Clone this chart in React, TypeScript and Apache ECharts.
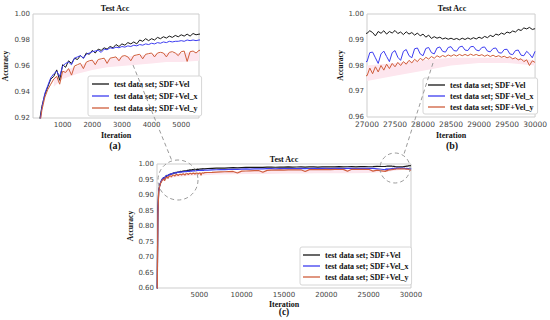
import React, { useEffect, useRef } from "react";
import * as echarts from "echarts";

// ---------- data ----------
const SERIES_NAMES = [
  "test data set; SDF+Vel",
  "test data set; SDF+Vel_x",
  "test data set; SDF+Vel_y",
];
const COLORS = ["#161616", "#3d3df0", "#cf5e3c"];

const range = (a: number, b: number, s: number) => {
  const r: number[] = [];
  for (let v = a; v <= b; v += s) r.push(v);
  return r;
};

// sampling positions (iterations)
const itersEarly = range(0, 5600, 100);
const itersMid = range(6000, 26500, 500);
const itersLate = range(27000, 30000, 50);

const velEarly = [
  0.50, 0.85, 0.915, 0.929, 0.938, 0.944, 0.950, 0.952, 0.957, 0.949,
  0.961, 0.959, 0.964, 0.962, 0.966, 0.965, 0.968, 0.966, 0.970, 0.969,
  0.972, 0.970, 0.973, 0.972, 0.974, 0.973, 0.975, 0.974, 0.9765, 0.975,
  0.977, 0.976, 0.978, 0.977, 0.9785, 0.977, 0.980, 0.979, 0.981, 0.9795,
  0.981, 0.980, 0.982, 0.981, 0.9825, 0.9815, 0.983, 0.982, 0.9835, 0.9825,
  0.984, 0.983, 0.9845, 0.983, 0.985, 0.984, 0.9845,
];
const velXEarly = [
  0.48, 0.84, 0.912, 0.928, 0.939, 0.945, 0.951, 0.954, 0.956, 0.952,
  0.960, 0.962, 0.963, 0.961, 0.966, 0.967, 0.968, 0.966, 0.969, 0.970,
  0.971, 0.9715, 0.972, 0.9705, 0.973, 0.9725, 0.974, 0.9735, 0.9745, 0.974,
  0.975, 0.9745, 0.9755, 0.975, 0.976, 0.9755, 0.9765, 0.976, 0.977, 0.9765,
  0.9775, 0.977, 0.978, 0.9775, 0.9785, 0.978, 0.979, 0.9785, 0.979, 0.979,
  0.9795, 0.979, 0.980, 0.9795, 0.980, 0.9795, 0.980,
];
const velYEarly = [
  0.46, 0.83, 0.91, 0.926, 0.936, 0.942, 0.946, 0.950, 0.952, 0.946,
  0.956, 0.955, 0.958, 0.953, 0.960, 0.961, 0.962, 0.958, 0.963, 0.964,
  0.9645, 0.961, 0.965, 0.9655, 0.966, 0.962, 0.966, 0.9665, 0.967, 0.964,
  0.9675, 0.968, 0.967, 0.964, 0.968, 0.9685, 0.969, 0.9655, 0.969, 0.9695,
  0.970, 0.967, 0.970, 0.9705, 0.970, 0.967, 0.9705, 0.971, 0.970, 0.968,
  0.971, 0.9715, 0.9635, 0.971, 0.9715, 0.970, 0.972,
];

const velMid = [
  0.9855, 0.986, 0.9865, 0.987, 0.9868, 0.9875, 0.988, 0.9878, 0.9885, 0.989,
  0.9888, 0.9892, 0.9895, 0.989, 0.9898, 0.990, 0.9895, 0.9902, 0.990, 0.9905,
  0.9898, 0.9903, 0.9908, 0.990, 0.9905, 0.991, 0.9902, 0.9908, 0.9912, 0.9905,
  0.991, 0.9915, 0.9908, 0.9912, 0.9918, 0.991, 0.9915, 0.992, 0.9912, 0.9918,
  0.9925, 0.992,
];
const velXMid = [
  0.9805, 0.981, 0.9815, 0.982, 0.9818, 0.9825, 0.983, 0.9826, 0.9835, 0.984,
  0.9836, 0.9842, 0.9845, 0.984, 0.9848, 0.985, 0.9845, 0.9852, 0.985, 0.9855,
  0.9848, 0.9853, 0.9856, 0.985, 0.9855, 0.9858, 0.9852, 0.9857, 0.986, 0.9853,
  0.9858, 0.986, 0.9854, 0.9858, 0.9862, 0.9855, 0.986, 0.9862, 0.9856, 0.986,
  0.9845, 0.983,
];
const velYMid = [
  0.9725, 0.973, 0.974, 0.9745, 0.975, 0.9755, 0.976, 0.971, 0.977, 0.9775,
  0.978, 0.9785, 0.979, 0.9735, 0.9795, 0.980, 0.9805, 0.981, 0.9805, 0.981,
  0.9815, 0.981, 0.9815, 0.976, 0.982, 0.9818, 0.9822, 0.982, 0.9825, 0.982,
  0.9825, 0.9822, 0.9828, 0.9765, 0.983, 0.9825, 0.983, 0.9828, 0.983, 0.977,
  0.980, 0.978,
];

const velLate = [
  0.9925, 0.9935, 0.9928, 0.9915, 0.9932, 0.9925, 0.9935, 0.9922, 0.9932, 0.9926,
  0.9936, 0.9924, 0.9930, 0.9920, 0.9931, 0.9922, 0.9928, 0.9918, 0.9926, 0.9915,
  0.9922, 0.9910, 0.9918, 0.9905, 0.9912, 0.9906, 0.9910, 0.9903, 0.9907, 0.9902,
  0.9906, 0.9901, 0.9905, 0.9900, 0.9906, 0.9901, 0.9907, 0.9902, 0.9908, 0.9903,
  0.9910, 0.9905, 0.9913, 0.9908, 0.9917, 0.9912, 0.9922, 0.9918, 0.9926, 0.9921,
  0.9930, 0.9926, 0.9934, 0.9930, 0.9940, 0.9936, 0.9946, 0.9942, 0.9948, 0.9940,
  0.9943,
];
const velXLate = [
  0.9815, 0.9850, 0.9852, 0.9830, 0.9808, 0.9845, 0.9856, 0.9835, 0.9815, 0.9850,
  0.9858, 0.9832, 0.9820, 0.9855, 0.9862, 0.9838, 0.9830, 0.9865, 0.9868, 0.9845,
  0.9838, 0.9866, 0.9870, 0.9850, 0.9845, 0.9868, 0.9872, 0.9855, 0.9852, 0.9870,
  0.9873, 0.9858, 0.9856, 0.9872, 0.9875, 0.9860, 0.9858, 0.9873, 0.9874, 0.9860,
  0.9857, 0.9870, 0.9872, 0.9856, 0.9853, 0.9866, 0.9868, 0.9850, 0.9848, 0.9862,
  0.9863, 0.9845, 0.9842, 0.9858, 0.9860, 0.9840, 0.9838, 0.9855, 0.9845, 0.9830,
  0.9855,
];
const velYLate = [
  0.9760, 0.9790, 0.9768, 0.9795, 0.9775, 0.9800, 0.9782, 0.9805, 0.9788, 0.9808,
  0.9795, 0.9812, 0.9800, 0.9815, 0.9805, 0.9820, 0.9810, 0.9824, 0.9815, 0.9828,
  0.9820, 0.9832, 0.9825, 0.9835, 0.9828, 0.9838, 0.9832, 0.9839, 0.9834, 0.9841,
  0.9836, 0.9842, 0.9837, 0.9843, 0.9838, 0.9843, 0.9838, 0.9844, 0.9839, 0.9843,
  0.9838, 0.9842, 0.9836, 0.9841, 0.9835, 0.9840, 0.9834, 0.9838, 0.9832, 0.9836,
  0.9830, 0.9834, 0.9826, 0.9830, 0.9822, 0.9826, 0.9815, 0.9822, 0.9800, 0.9818,
  0.9812,
];

// light shaded band around the Vel_y curve
const bandIters = [
  700, 1000, 1500, 2000, 2500, 3000, 3500, 4000, 4500, 5000, 5600, 7000, 9000, 11000,
  13000, 15000, 17000, 19000, 21000, 23000, 25000, 27000, 27500, 28000, 28500, 29000,
  29500, 30000,
];
const bandHigh = [
  0.950, 0.956, 0.960, 0.964, 0.965, 0.967, 0.968, 0.969, 0.970, 0.970, 0.971, 0.974,
  0.976, 0.978, 0.979, 0.980, 0.981, 0.981, 0.982, 0.982, 0.982, 0.980, 0.981, 0.982,
  0.983, 0.983, 0.983, 0.982,
];
const bandLow = [
  0.944, 0.950, 0.954, 0.957, 0.959, 0.960, 0.961, 0.962, 0.963, 0.963, 0.964, 0.966,
  0.967, 0.968, 0.968, 0.969, 0.969, 0.970, 0.970, 0.970, 0.971, 0.974, 0.976, 0.978,
  0.980, 0.981, 0.981, 0.980,
];

// axis tick settings per panel: [a, b, c]
const xMins = [0, 27000, 0];
const xMaxs = [5600, 30000, 30000];
const xIntervals = [1000, 500, 5000];
const yMins = [0.92, 0.96, 0.6];
const yMaxs = [1.0, 1.0, 1.0];
const yIntervals = [0.02, 0.01, 0.05];
const panelLabels = ["(a)", "(b)", "(c)"];
const TITLE = "Test Acc";

// ---------- chart ----------
const SERIF = '"Liberation Serif", "Times New Roman", serif';
const SANS = '"DejaVu Sans", sans-serif';

export default function App() {
  const ref = useRef<HTMLDivElement>(null);

  useEffect(() => {
    if (!ref.current) return;
    const chart = echarts.init(ref.current, undefined, { renderer: "svg" });

    const iters = [...itersEarly, ...itersMid, ...itersLate];
    const ys = [
      [...velEarly, ...velMid, ...velLate],
      [...velXEarly, ...velXMid, ...velXLate],
      [...velYEarly, ...velYMid, ...velYLate],
    ];

    const grids = [
      { left: 31, top: 14, width: 168, height: 104 },
      { left: 367, top: 14, width: 170, height: 103 },
      { left: 157, top: 164, width: 254, height: 124 },
    ].map((g) => ({ ...g, show: true, borderColor: "#cdcdcd", borderWidth: 1, backgroundColor: "transparent" }));

    const xAxes = [0, 1, 2].map((k) => ({
      type: "value",
      gridIndex: k,
      min: xMins[k],
      max: xMaxs[k],
      interval: xIntervals[k],
      name: "Iteration",
      nameLocation: "middle",
      nameGap: k === 1 ? 14 : k === 2 ? 12 : 13,
      nameTextStyle: { fontFamily: SERIF, fontWeight: "bold", fontSize: 8, color: "#111" },
      axisLine: { show: false },
      axisTick: { show: false },
      splitLine: { show: false },
      axisLabel: {
        fontFamily: SANS,
        fontSize: k === 1 ? 7.5 : 7,
        color: "#444",
        margin: 3,
        formatter: (v: number) => {
          if (k !== 1 && v === 0) return "";
          if (v % xIntervals[k] !== 0) return "";
          return String(v);
        },
      },
    }));

    const yAxes = [0, 1, 2].map((k) => ({
      type: "value",
      gridIndex: k,
      min: yMins[k],
      max: yMaxs[k],
      interval: yIntervals[k],
      name: "Accuracy",
      nameLocation: "middle",
      nameGap: k === 0 ? 24 : 23,
      nameTextStyle: { fontFamily: SERIF, fontWeight: "bold", fontSize: 7.5, color: "#111" },
      axisLine: { show: false },
      axisTick: { show: false },
      splitLine: { show: false },
      axisLabel: {
        fontFamily: SANS,
        fontSize: 7,
        color: "#444",
        margin: 3,
        formatter: (v: number) => v.toFixed(2),
      },
    }));

    const series: any[] = [];
    for (let k = 0; k < 3; k++) {
      const idx = bandIters
        .map((_, i) => i)
        .filter((i) => bandIters[i] >= xMins[k] && bandIters[i] <= xMaxs[k]);
      series.push({
        type: "custom",
        name: "band" + k,
        xAxisIndex: k,
        yAxisIndex: k,
        silent: true,
        z: 1,
        data: [[xMins[k], yMins[k]]],
        renderItem: (_p: any, api: any) => {
          const up = idx.map((i) => api.coord([bandIters[i], bandHigh[i]]));
          const lo = idx.map((i) => api.coord([bandIters[i], bandLow[i]])).reverse();
          return {
            type: "polygon",
            shape: { points: [...up, ...lo] },
            style: { fill: "#fde6ee", stroke: "none" },
          };
        },
      });
      for (let s = 0; s < 3; s++) {
        series.push({
          type: "line",
          name: SERIES_NAMES[s],
          xAxisIndex: k,
          yAxisIndex: k,
          data: iters.map((x, i) => [x, ys[s][i]]),
          symbol: "none",
          showSymbol: false,
          color: COLORS[s],
          lineStyle: { color: COLORS[s], width: k === 2 ? 1.2 : 1 },
          clip: true,
          z: 3 + s,
        });
      }
    }

    const legendBase = {
      data: SERIES_NAMES,
      orient: "vertical",
      icon: "rect",
      itemWidth: 17,
      itemHeight: 1.3,
      itemGap: 2,
      selectedMode: false,
      backgroundColor: "#ffffff",
      borderColor: "#d6d6d6",
      borderWidth: 1,
      borderRadius: 2,
      textStyle: { fontFamily: SERIF, fontWeight: "bold", fontSize: 8, color: "#111", lineHeight: 10 },
    };
    const legends = [
      { ...legendBase, left: 88, top: 76, padding: [3, 4, 3, 4] },
      { ...legendBase, left: 423, top: 78, padding: [2, 4, 2, 5], itemGap: 1 },
      { ...legendBase, left: 300, top: 247, padding: [3, 3, 3, 3], itemGap: 1 },
    ];

    const gx = [115, 452, 284];
    const titleY = [8, 8, 159];
    const labelY = [145, 145, 312];
    const labelSize = [10, 10, 9.5];
    const texts: any[] = [];
    for (let k = 0; k < 3; k++) {
      texts.push({
        type: "text",
        z: 50,
        style: {
          text: TITLE, x: gx[k], y: titleY[k],
          textAlign: "center", align: "center", textVerticalAlign: "middle", verticalAlign: "middle",
          font: `bold 8px ${SERIF}`, fill: "#111",
        },
      });
      texts.push({
        type: "text",
        z: 50,
        style: {
          text: panelLabels[k], x: gx[k], y: labelY[k],
          textAlign: "center", align: "center", textVerticalAlign: "middle", verticalAlign: "middle",
          font: `bold ${labelSize[k]}px ${SERIF}`, fill: "#111",
        },
      });
    }
    const dash = { fill: "none", stroke: "#9b9b9b", lineWidth: 1, lineDash: [4, 3] };
    const shapes: any[] = [
      { type: "circle", z: 60, shape: { cx: 178, cy: 180, r: 20 }, style: { ...dash } },
      { type: "circle", z: 60, shape: { cx: 395, cy: 168, r: 15 }, style: { ...dash } },
      { type: "line", z: 60, shape: { x1: 133, y1: 65, x2: 172, y2: 161 }, style: { ...dash } },
      { type: "line", z: 60, shape: { x1: 433, y1: 63, x2: 404, y2: 154 }, style: { ...dash } },
    ];

    chart.setOption({
      animation: false,
      backgroundColor: "#ffffff",
      grid: grids,
      xAxis: xAxes,
      yAxis: yAxes,
      legend: legends,
      series,
      graphic: { elements: [...texts, ...shapes] },
    });

    return () => chart.dispose();
  }, []);

  return (
    <div
      ref={ref}
      style={{ position: "fixed", left: 0, top: 0, width: 550, height: 320, background: "#fff" }}
    />
  );
}
